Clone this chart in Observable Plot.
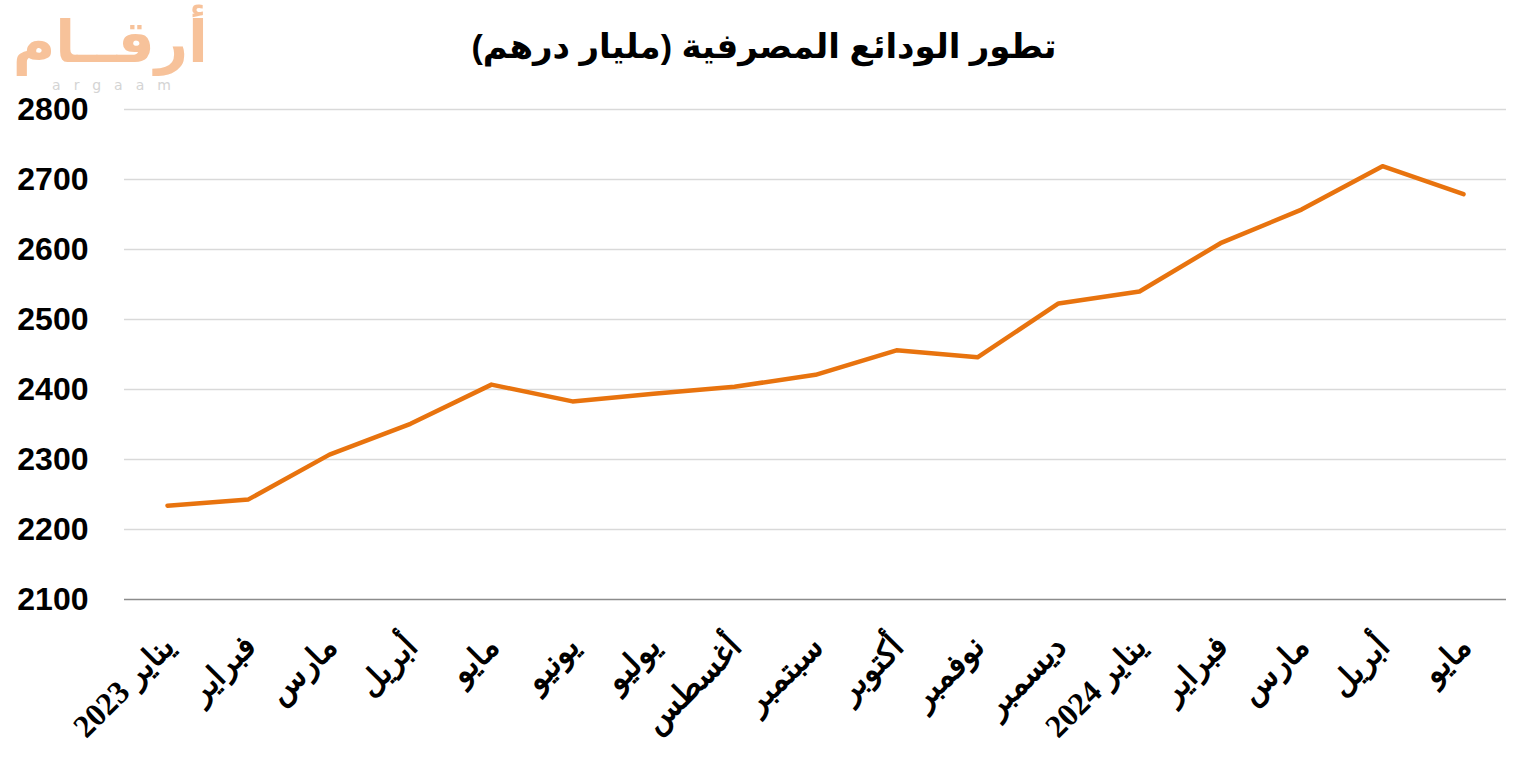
<!DOCTYPE html>
<html>
<head>
<meta charset="utf-8">
<script src="https://cdn.jsdelivr.net/npm/d3@7"></script>
<script src="https://cdn.jsdelivr.net/npm/@observablehq/plot@0.6"></script>
<style>
  html, body { margin: 0; padding: 0; background: #fff; }
  #wrap { position: relative; width: 1528px; height: 766px; overflow: hidden; }
  #title { position: absolute; left: 0; top: 26px; width: 1528px; text-align: center;
           font: bold 34px "Liberation Sans", "DejaVu Sans", sans-serif; color: #000; direction: rtl; }
  #logo-ar { position: absolute; left: 14px; top: 8px; width: 194px; height: 68px; text-align: center;
             font: bold 58px "DejaVu Sans", sans-serif; color: #f7c29a; line-height: 68px; direction: rtl; }
  #logo-en { position: absolute; left: 30px; top: 78px; width: 150px; height: 14px; text-align: center;
             font: 14px "DejaVu Sans", sans-serif; color: #d4d4d4; letter-spacing: 13px; line-height: 14px; padding-left: 13px; }
  #chart { position: absolute; left: 0; top: 0; }
</style>
</head>
<body>
<div id="wrap">
  <div id="chart"></div>
  <div id="logo-ar">أرقــام</div>
  <div id="logo-en">argaam</div>
  <div id="title">تطور الودائع المصرفية (مليار درهم)</div>
</div>
<script>
const months = ["2023-01","2023-02","2023-03","2023-04","2023-05","2023-06","2023-07","2023-08","2023-09","2023-10","2023-11","2023-12","2024-01","2024-02","2024-03","2024-04","2024-05"];
const monthLabels = ["يناير 2023","فبراير","مارس","أبريل","مايو","يونيو","يوليو","أغسطس","سبتمبر","أكتوبر","نوفمبر","ديسمبر","يناير 2024","فبراير","مارس","أبريل","مايو"];
const deposits = [2234, 2243, 2307, 2351, 2407, 2383, 2394, 2404, 2421, 2456, 2446, 2523, 2540, 2609, 2657, 2719, 2679];
const yTicks = [2100, 2200, 2300, 2400, 2500, 2600, 2700, 2800];

const data = months.map((m, i) => ({month: m, label: monthLabels[i], value: deposits[i]}));

const chart = Plot.plot({
  width: 1528,
  height: 766,
  marginTop: 109,
  marginBottom: 167,
  marginLeft: 124,
  marginRight: 22,
  x: {type: "point", domain: months, padding: 0.5, axis: null},
  y: {domain: [2100, 2800], axis: null},
  marks: [
    Plot.ruleY(yTicks.filter(t => t > 2100), {stroke: "#d9d9d9", strokeWidth: 1.5}),
    Plot.ruleY([2100], {stroke: "#8c8c8c", strokeWidth: 1.5}),
    Plot.text(yTicks, {y: d => d, frameAnchor: "left", dx: -36, textAnchor: "end", text: d => String(d),
      fontSize: 32, fontWeight: "bold", fontFamily: "'Liberation Sans', Arial, sans-serif", fill: "#000"}),
    Plot.line(data, {x: "month", y: "value", stroke: "#e8730e", strokeWidth: 4.5, strokeLinejoin: "round", strokeLinecap: "round"}),
    Plot.text(data, {x: "month", frameAnchor: "bottom", text: "label", rotate: -45, textAnchor: "end", lineAnchor: "middle",
      dy: 42, dx: 2, fontSize: 32, fontWeight: "bold", fontFamily: "'Liberation Serif', 'DejaVu Serif', serif", fill: "#000"})
  ]
});
document.getElementById("chart").appendChild(chart);
</script>
</body>
</html>
